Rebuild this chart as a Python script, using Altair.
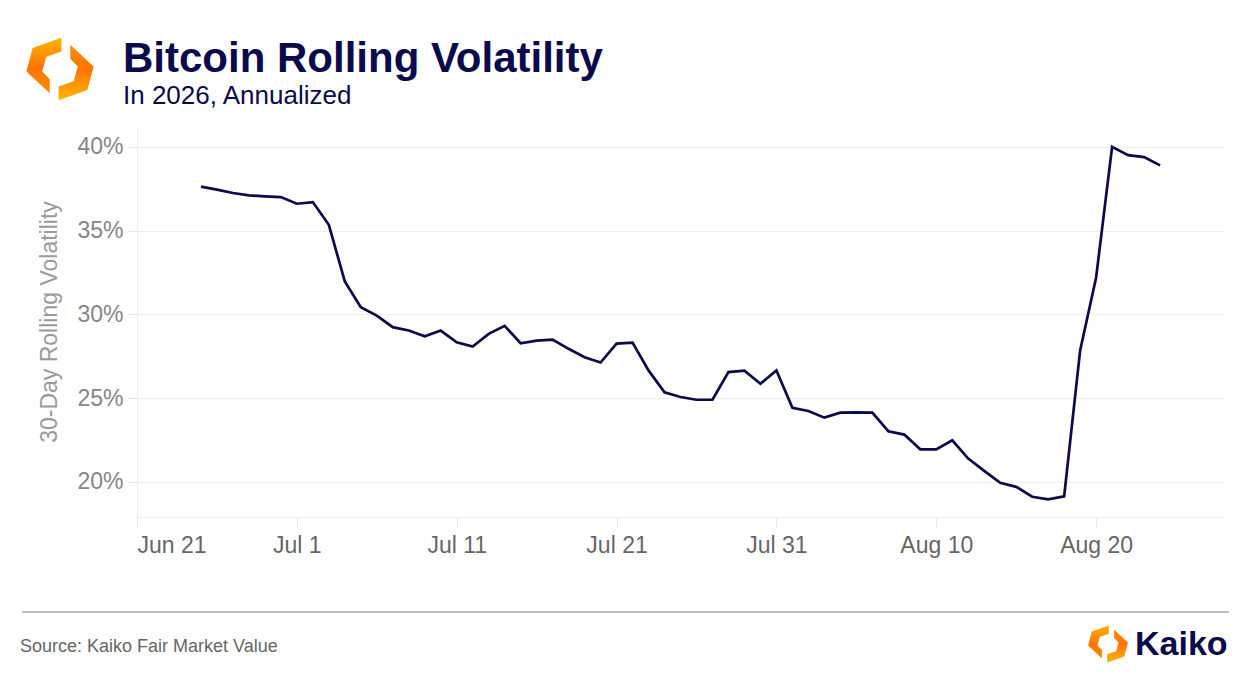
import altair as alt
import pandas as pd

# ---------------- data ----------------
vol = [
    37.62, 37.44, 37.24, 37.10, 37.04, 37.00,              # Jun 25-30
    36.60, 36.70, 35.34, 31.96, 30.42, 29.92, 29.23, 29.03, 28.69, 29.03,  # Jul 1-10
    28.33, 28.08, 28.83, 29.31, 28.27, 28.43, 28.49, 27.94, 27.44, 27.12,  # Jul 11-20
    28.25, 28.31, 26.65, 25.34, 25.06, 24.90, 24.90, 26.55, 26.63, 25.85,  # Jul 21-30
    26.65,                                                  # Jul 31
    24.42, 24.23, 23.83, 24.13, 24.15, 24.13, 23.02, 22.82, 21.94, 21.94,  # Aug 1-10
    22.48, 21.39, 20.65, 19.94, 19.70, 19.11, 18.95, 19.13, 27.84, 32.20,  # Aug 11-20
    40.00, 39.50, 39.38, 38.89,                             # Aug 21-24
]
start_date = "2026-06-25"
x_tick_dates = ["2026-06-21", "2026-07-01", "2026-07-11", "2026-07-21",
                "2026-07-31", "2026-08-10", "2026-08-20"]
x_domain = ["2026-06-21", "2026-08-28"]
y_ticks = [20, 25, 30, 35, 40]
y_domain = [17.9, 41.24]

title_text = "Bitcoin Rolling Volatility"
subtitle_text = "In 2026, Annualized"
y_title = "30-Day Rolling Volatility"
source_text = "Source: Kaiko Fair Market Value"
brand_text = "Kaiko"

dates = pd.date_range(start_date, periods=len(vol), freq="D").strftime("%Y-%m-%d")
df = pd.DataFrame({"date": list(dates), "vol": vol})

# ---------------- style ----------------
FONT = "Liberation Sans"
NAVY = "#0a0a4d"
GRID = "#eeeeee"

W, H = 1087, 391
PAD = {"left": 129, "top": 118, "right": 24, "bottom": 155}


def dt(s):
    y, m, d = map(int, s.split("-"))
    return alt.DateTime(year=y, month=m, date=d, utc=True)


line = alt.Chart(df).mark_line(color=NAVY, strokeWidth=2.7).encode(
    x=alt.X(
        "date:T",
        scale=alt.Scale(type="utc", domain=[dt(s) for s in x_domain], nice=False),
        axis=alt.Axis(
            values=[dt(s) for s in x_tick_dates],
            format="%b %-d",
            title=None,
            grid=False,
            labelFontSize=23,
            labelColor="#666666",
            labelPadding=6,
            tickColor="#e8e8e8",
            tickSize=11,
            domainColor=GRID,
        ),
    ),
    y=alt.Y(
        "vol:Q",
        scale=alt.Scale(domain=y_domain, nice=False, zero=False),
        axis=alt.Axis(
            values=y_ticks,
            labelExpr="datum.value + '%'",
            title=y_title,
            titleFontSize=23,
            titleColor="#9a9a9a",
            titleFontWeight="normal",
            titlePadding=15,
            labelFontSize=23,
            labelColor="#858585",
            labelPadding=4,
            grid=True,
            gridColor=GRID,
            tickColor="#e8e8e8",
            tickSize=10,
            domainColor=GRID,
        ),
    ),
)


def text_layer(txt, x, y, size, color, weight="normal"):
    return alt.Chart(pd.DataFrame({"t": [txt]})).mark_text(
        align="left", baseline="alphabetic", font=FONT, fontSize=size,
        fontWeight=weight, color=color,
    ).encode(x=alt.value(x), y=alt.value(y), text="t:N")


LEFT_PIECE = "M0.04,-0.91L-0.80,-0.61L-0.98,0.07L-0.30,0.71L-0.30,0.30L-0.52,0.07L-0.40,-0.36L0.04,-0.51Z"
RIGHT_PIECE = "M-0.04,0.91L0.80,0.61L0.98,-0.07L0.30,-0.71L0.30,-0.30L0.52,-0.07L0.40,0.36L-0.04,0.51Z"

grad_left = alt.LinearGradient(
    gradient="linear",
    stops=[alt.GradientStop(offset=0, color="#FFB400"),
           alt.GradientStop(offset=0.55, color="#FF7400"),
           alt.GradientStop(offset=1, color="#FF8C00")],
    x1=0.5, y1=0, x2=0.5, y2=1,
)
grad_right = alt.LinearGradient(
    gradient="linear",
    stops=[alt.GradientStop(offset=0, color="#FF8C00"),
           alt.GradientStop(offset=0.45, color="#FF7400"),
           alt.GradientStop(offset=1, color="#FFB800")],
    x1=0.5, y1=0, x2=0.5, y2=1,
)


def logo(cx, cy, size):
    one = pd.DataFrame({"k": [0]})
    l = alt.Chart(one).mark_point(shape=LEFT_PIECE, filled=True, fill=grad_left,
                                  size=size, strokeWidth=0, opacity=1).encode(
        x=alt.value(cx), y=alt.value(cy))
    r = alt.Chart(one).mark_point(shape=RIGHT_PIECE, filled=True, fill=grad_right,
                                  size=size, strokeWidth=0, opacity=1).encode(
        x=alt.value(cx), y=alt.value(cy))
    return [l, r]


footer_rule = alt.Chart(pd.DataFrame({"k": [0]})).mark_rule(
    color="#c0c0c0", strokeWidth=2
).encode(x=alt.value(-115), x2=alt.value(1092), y=alt.value(486))

layers = [line]
layers += logo(-77, -57, 4700)
layers += [
    text_layer(title_text, -14, -54, 42, NAVY, "bold"),
    text_layer(subtitle_text, -14, -22, 26, NAVY),
    footer_rule,
    text_layer(source_text, -117, 526, 18, "#666666"),
]
layers += logo(971, 518, 1650)
layers += [text_layer(brand_text, 998, 529, 34, NAVY, "bold")]

chart = alt.layer(*layers).properties(
    width=W, height=H,
    autosize=alt.AutoSizeParams(type="none"),
    padding=PAD,
    background="white",
).configure_view(strokeWidth=0).configure_axis(labelFont=FONT, titleFont=FONT)

chart.save("out.html", embed_options={"renderer": "svg", "actions": False})
